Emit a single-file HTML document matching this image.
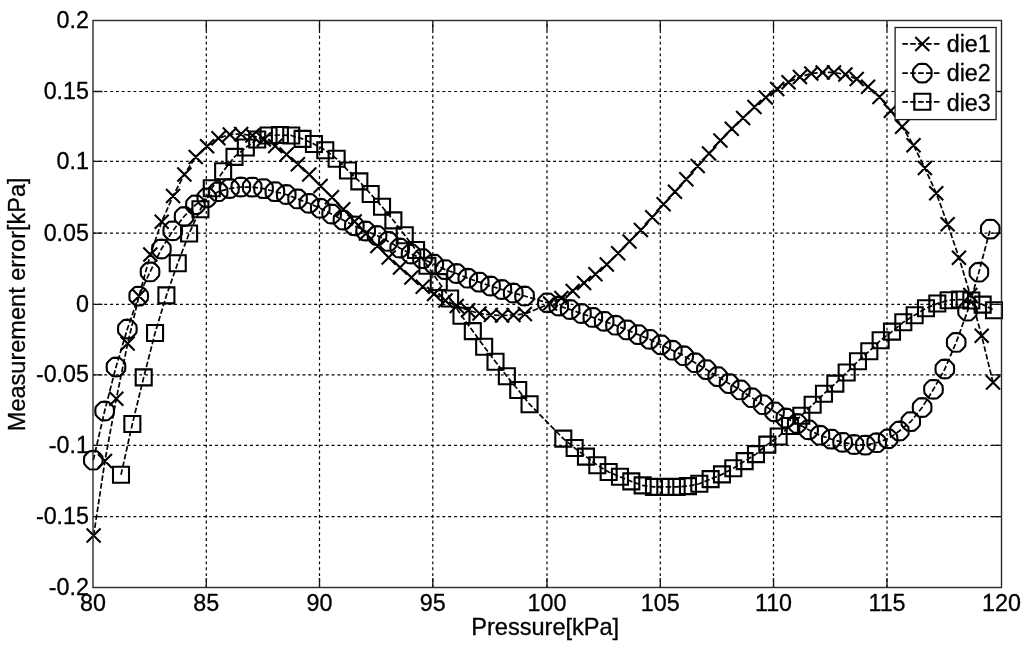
<!DOCTYPE html>
<html><head><meta charset="utf-8"><title>Measurement error plot</title>
<style>
html,body{margin:0;padding:0;background:#fff;}
body{width:1024px;height:652px;overflow:hidden;}
svg{display:block;}
text{font-family:"Liberation Sans",Arial,Helvetica,sans-serif;font-size:23.3px;fill:#000;stroke:#000;stroke-width:0.3px;}
</style></head><body>
<svg width="1024" height="652" viewBox="0 0 1024 652">
<rect x="0" y="0" width="1024" height="652" fill="#fff"/>
<path d="M206.3 20.5V587.5M319.5 20.5V587.5M432.8 20.5V587.5M547 20.5V587.5M660.3 20.5V587.5M773.5 20.5V587.5M887 20.5V587.5" stroke="#000" stroke-width="1.2" stroke-dasharray="2.9 2.94" stroke-dashoffset="2.15" fill="none"/>
<path d="M93 91.5H1001.5M93 161.3H1001.5M93 233.1H1001.5M93 304.3H1001.5M93 374.9H1001.5M93 445.3H1001.5M93 516.7H1001.5" stroke="#000" stroke-width="1.2" stroke-dasharray="2.9 2.93" stroke-dashoffset="0.4" fill="none"/>
<path d="M206.3 587.5v-9.5M206.3 20.5v9.5M319.5 587.5v-9.5M319.5 20.5v9.5M432.8 587.5v-9.5M432.8 20.5v9.5M547 587.5v-9.5M547 20.5v9.5M660.3 587.5v-9.5M660.3 20.5v9.5M773.5 587.5v-9.5M773.5 20.5v9.5M887 587.5v-9.5M887 20.5v9.5M93 91.5h9.5M1001.5 91.5h-9.5M93 161.3h9.5M1001.5 161.3h-9.5M93 233.1h9.5M1001.5 233.1h-9.5M93 304.3h9.5M1001.5 304.3h-9.5M93 374.9h9.5M1001.5 374.9h-9.5M93 445.3h9.5M1001.5 445.3h-9.5M93 516.7h9.5M1001.5 516.7h-9.5" stroke="#111" stroke-width="1.3" fill="none"/>
<path d="M93.6 535.6 104.95 461 116.3 398.8 127.65 343.5 139 296.1 150.34 254.6 161.69 221.8 173.04 196 184.39 174.4 195.74 157 207.09 146.3 218.44 138.3 229.79 134.4 241.14 134 252.49 135.5 263.84 139.5 275.18 146 286.53 154.5 297.88 164.2 309.23 174.5 320.58 186 331.93 197.3 343.28 209.2 354.63 221.5 365.98 233.5 377.33 246 388.67 257.5 400.02 267.5 411.37 277.4 422.72 286.8 434.07 294 445.42 300.5 456.77 306 468.12 310.2 479.47 313.5 490.82 315 502.16 315.5 513.51 315 524.86 314 550 303.6 561.36 298 572.72 290.9 584.08 282.9 595.44 274.2 606.8 264.4 618.16 253.2 629.52 241.4 640.88 230 652.24 217.2 663.6 204.3 674.96 191.7 686.32 179.2 697.68 166.1 709.04 153.4 720.4 140.5 731.76 128.8 743.12 117.9 754.48 106.9 765.84 97.5 777.2 88.9 788.56 82.2 799.92 77.1 811.28 73.4 822.64 72.4 834 72.4 845.36 74.5 856.72 79.1 868.08 86.8 879.44 96.9 890.8 110.8 902.16 126.8 913.52 145.2 924.88 168.1 936.24 193.2 947.6 224.2 958.96 257.7 970.32 295 981.68 335.8 993.04 382.6" stroke="#000" stroke-width="1.7" stroke-dasharray="5.6 2.3" fill="none"/>
<path d="M86.6 528.6L100.6 542.6M86.6 542.6L100.6 528.6M97.95 454L111.95 468M97.95 468L111.95 454M109.3 391.8L123.3 405.8M109.3 405.8L123.3 391.8M120.65 336.5L134.65 350.5M120.65 350.5L134.65 336.5M132 289.1L146 303.1M132 303.1L146 289.1M143.34 247.6L157.34 261.6M143.34 261.6L157.34 247.6M154.69 214.8L168.69 228.8M154.69 228.8L168.69 214.8M166.04 189L180.04 203M166.04 203L180.04 189M177.39 167.4L191.39 181.4M177.39 181.4L191.39 167.4M188.74 150L202.74 164M188.74 164L202.74 150M200.09 139.3L214.09 153.3M200.09 153.3L214.09 139.3M211.44 131.3L225.44 145.3M211.44 145.3L225.44 131.3M222.79 127.4L236.79 141.4M222.79 141.4L236.79 127.4M234.14 127L248.14 141M234.14 141L248.14 127M245.49 128.5L259.49 142.5M245.49 142.5L259.49 128.5M256.84 132.5L270.84 146.5M256.84 146.5L270.84 132.5M268.18 139L282.18 153M268.18 153L282.18 139M279.53 147.5L293.53 161.5M279.53 161.5L293.53 147.5M290.88 157.2L304.88 171.2M290.88 171.2L304.88 157.2M302.23 167.5L316.23 181.5M302.23 181.5L316.23 167.5M313.58 179L327.58 193M313.58 193L327.58 179M324.93 190.3L338.93 204.3M324.93 204.3L338.93 190.3M336.28 202.2L350.28 216.2M336.28 216.2L350.28 202.2M347.63 214.5L361.63 228.5M347.63 228.5L361.63 214.5M358.98 226.5L372.98 240.5M358.98 240.5L372.98 226.5M370.33 239L384.33 253M370.33 253L384.33 239M381.67 250.5L395.67 264.5M381.67 264.5L395.67 250.5M393.02 260.5L407.02 274.5M393.02 274.5L407.02 260.5M404.37 270.4L418.37 284.4M404.37 284.4L418.37 270.4M415.72 279.8L429.72 293.8M415.72 293.8L429.72 279.8M427.07 287L441.07 301M427.07 301L441.07 287M438.42 293.5L452.42 307.5M438.42 307.5L452.42 293.5M449.77 299L463.77 313M449.77 313L463.77 299M461.12 303.2L475.12 317.2M461.12 317.2L475.12 303.2M472.47 306.5L486.47 320.5M472.47 320.5L486.47 306.5M483.82 308L497.82 322M483.82 322L497.82 308M495.16 308.5L509.16 322.5M495.16 322.5L509.16 308.5M506.51 308L520.51 322M506.51 322L520.51 308M517.86 307L531.86 321M517.86 321L531.86 307M543 296.6L557 310.6M543 310.6L557 296.6M554.36 291L568.36 305M554.36 305L568.36 291M565.72 283.9L579.72 297.9M565.72 297.9L579.72 283.9M577.08 275.9L591.08 289.9M577.08 289.9L591.08 275.9M588.44 267.2L602.44 281.2M588.44 281.2L602.44 267.2M599.8 257.4L613.8 271.4M599.8 271.4L613.8 257.4M611.16 246.2L625.16 260.2M611.16 260.2L625.16 246.2M622.52 234.4L636.52 248.4M622.52 248.4L636.52 234.4M633.88 223L647.88 237M633.88 237L647.88 223M645.24 210.2L659.24 224.2M645.24 224.2L659.24 210.2M656.6 197.3L670.6 211.3M656.6 211.3L670.6 197.3M667.96 184.7L681.96 198.7M667.96 198.7L681.96 184.7M679.32 172.2L693.32 186.2M679.32 186.2L693.32 172.2M690.68 159.1L704.68 173.1M690.68 173.1L704.68 159.1M702.04 146.4L716.04 160.4M702.04 160.4L716.04 146.4M713.4 133.5L727.4 147.5M713.4 147.5L727.4 133.5M724.76 121.8L738.76 135.8M724.76 135.8L738.76 121.8M736.12 110.9L750.12 124.9M736.12 124.9L750.12 110.9M747.48 99.9L761.48 113.9M747.48 113.9L761.48 99.9M758.84 90.5L772.84 104.5M758.84 104.5L772.84 90.5M770.2 81.9L784.2 95.9M770.2 95.9L784.2 81.9M781.56 75.2L795.56 89.2M781.56 89.2L795.56 75.2M792.92 70.1L806.92 84.1M792.92 84.1L806.92 70.1M804.28 66.4L818.28 80.4M804.28 80.4L818.28 66.4M815.64 65.4L829.64 79.4M815.64 79.4L829.64 65.4M827 65.4L841 79.4M827 79.4L841 65.4M838.36 67.5L852.36 81.5M838.36 81.5L852.36 67.5M849.72 72.1L863.72 86.1M849.72 86.1L863.72 72.1M861.08 79.8L875.08 93.8M861.08 93.8L875.08 79.8M872.44 89.9L886.44 103.9M872.44 103.9L886.44 89.9M883.8 103.8L897.8 117.8M883.8 117.8L897.8 103.8M895.16 119.8L909.16 133.8M895.16 133.8L909.16 119.8M906.52 138.2L920.52 152.2M906.52 152.2L920.52 138.2M917.88 161.1L931.88 175.1M917.88 175.1L931.88 161.1M929.24 186.2L943.24 200.2M929.24 200.2L943.24 186.2M940.6 217.2L954.6 231.2M940.6 231.2L954.6 217.2M951.96 250.7L965.96 264.7M951.96 264.7L965.96 250.7M963.32 288L977.32 302M963.32 302L977.32 288M974.68 328.8L988.68 342.8M974.68 342.8L988.68 328.8M986.04 375.6L1000.04 389.6M986.04 389.6L1000.04 375.6" stroke="#000" stroke-width="2.1" fill="none" stroke-linecap="butt" stroke-linejoin="miter"/>
<path d="M93.3 460.2 104.65 411 116 367 127.35 329 138.7 296.1 150.05 271.9 161.39 249 172.74 230.8 184.09 216.5 195.44 204.8 206.79 197.8 218.14 191.7 229.49 188.5 240.84 187 252.19 187.1 263.54 188.6 274.88 191.6 286.23 194.5 297.58 198.9 308.93 203.3 320.28 208.2 331.63 214 342.98 220 354.33 225.8 365.68 231 377.03 235.5 388.37 241.4 399.72 248 411.07 254 422.42 258.6 433.77 264.1 445.12 269.6 456.47 273.5 467.82 278.2 479.17 282.1 490.52 286 501.86 289.5 513.21 293 524.56 296 547.4 302.8 558.75 306 570.11 309.5 581.46 313.5 592.82 317.4 604.17 321.3 615.53 325.2 626.88 329.9 638.24 334.6 649.6 339.3 660.95 344.8 672.3 350.2 683.66 355.7 695.01 362.7 706.37 369.6 717.73 376.6 729.08 383.6 740.43 389.9 751.79 397.7 763.14 404.7 774.5 411.8 785.86 418 797.21 423.5 808.57 429.8 819.92 435.2 831.27 439.1 842.63 442.3 853.99 444.5 865.34 445.1 876.69 442.7 888.05 438.8 899.4 431 910.76 421.6 922.12 407.5 933.47 389.3 944.83 369 956.18 342.4 967.53 311.2 978.89 272.2 990.25 229.1" stroke="#000" stroke-width="1.7" stroke-dasharray="5.6 2.3" fill="none"/>
<path d="M102.65 460.2L102.33 463.94L99.91 466.81L97.04 469.23L93.3 469.55L89.56 469.23L86.69 466.81L84.27 463.94L83.95 460.2L84.27 456.46L86.69 453.59L89.56 451.17L93.3 450.85L97.04 451.17L99.91 453.59L102.33 456.46ZM114 411L113.68 414.74L111.26 417.61L108.39 420.03L104.65 420.35L100.91 420.03L98.04 417.61L95.62 414.74L95.3 411L95.62 407.26L98.04 404.39L100.91 401.97L104.65 401.65L108.39 401.97L111.26 404.39L113.68 407.26ZM125.35 367L125.02 370.74L122.61 373.61L119.74 376.03L116 376.35L112.26 376.03L109.39 373.61L106.97 370.74L106.65 367L106.97 363.26L109.39 360.39L112.26 357.97L116 357.65L119.74 357.97L122.61 360.39L125.02 363.26ZM136.7 329L136.37 332.74L133.96 335.61L131.09 338.03L127.35 338.35L123.61 338.03L120.74 335.61L118.32 332.74L118 329L118.32 325.26L120.74 322.39L123.61 319.97L127.35 319.65L131.09 319.97L133.96 322.39L136.37 325.26ZM148.05 296.1L147.72 299.84L145.31 302.71L142.44 305.13L138.7 305.45L134.96 305.13L132.08 302.71L129.67 299.84L129.35 296.1L129.67 292.36L132.08 289.49L134.96 287.07L138.7 286.75L142.44 287.07L145.31 289.49L147.72 292.36ZM159.4 271.9L159.07 275.64L156.66 278.51L153.78 280.93L150.05 281.25L146.31 280.93L143.43 278.51L141.02 275.64L140.7 271.9L141.02 268.16L143.43 265.29L146.31 262.87L150.05 262.55L153.78 262.87L156.66 265.29L159.07 268.16ZM170.74 249L170.42 252.74L168.01 255.61L165.13 258.03L161.39 258.35L157.65 258.03L154.78 255.61L152.37 252.74L152.04 249L152.37 245.26L154.78 242.39L157.65 239.97L161.39 239.65L165.13 239.97L168.01 242.39L170.42 245.26ZM182.09 230.8L181.77 234.54L179.35 237.41L176.48 239.83L172.74 240.15L169 239.83L166.13 237.41L163.72 234.54L163.39 230.8L163.72 227.06L166.13 224.19L169 221.77L172.74 221.45L176.48 221.77L179.35 224.19L181.77 227.06ZM193.44 216.5L193.12 220.24L190.7 223.11L187.83 225.53L184.09 225.85L180.35 225.53L177.48 223.11L175.07 220.24L174.74 216.5L175.07 212.76L177.48 209.89L180.35 207.47L184.09 207.15L187.83 207.47L190.7 209.89L193.12 212.76ZM204.79 204.8L204.47 208.54L202.05 211.41L199.18 213.83L195.44 214.15L191.7 213.83L188.83 211.41L186.41 208.54L186.09 204.8L186.41 201.06L188.83 198.19L191.7 195.77L195.44 195.45L199.18 195.77L202.05 198.19L204.47 201.06ZM216.14 197.8L215.82 201.54L213.4 204.41L210.53 206.83L206.79 207.15L203.05 206.83L200.18 204.41L197.76 201.54L197.44 197.8L197.76 194.06L200.18 191.19L203.05 188.77L206.79 188.45L210.53 188.77L213.4 191.19L215.82 194.06ZM227.49 191.7L227.17 195.44L224.75 198.31L221.88 200.73L218.14 201.05L214.4 200.73L211.53 198.31L209.11 195.44L208.79 191.7L209.11 187.96L211.53 185.09L214.4 182.67L218.14 182.35L221.88 182.67L224.75 185.09L227.17 187.96ZM238.84 188.5L238.51 192.24L236.1 195.11L233.23 197.53L229.49 197.85L225.75 197.53L222.88 195.11L220.46 192.24L220.14 188.5L220.46 184.76L222.88 181.89L225.75 179.47L229.49 179.15L233.23 179.47L236.1 181.89L238.51 184.76ZM250.19 187L249.86 190.74L247.45 193.61L244.58 196.03L240.84 196.35L237.1 196.03L234.23 193.61L231.81 190.74L231.49 187L231.81 183.26L234.23 180.39L237.1 177.97L240.84 177.65L244.58 177.97L247.45 180.39L249.86 183.26ZM261.54 187.1L261.21 190.84L258.8 193.71L255.93 196.13L252.19 196.45L248.45 196.13L245.57 193.71L243.16 190.84L242.84 187.1L243.16 183.36L245.57 180.49L248.45 178.07L252.19 177.75L255.93 178.07L258.8 180.49L261.21 183.36ZM272.89 188.6L272.56 192.34L270.15 195.21L267.27 197.63L263.54 197.95L259.8 197.63L256.92 195.21L254.51 192.34L254.19 188.6L254.51 184.86L256.92 181.99L259.8 179.57L263.54 179.25L267.27 179.57L270.15 181.99L272.56 184.86ZM284.23 191.6L283.91 195.34L281.5 198.21L278.62 200.63L274.88 200.95L271.14 200.63L268.27 198.21L265.86 195.34L265.53 191.6L265.86 187.86L268.27 184.99L271.14 182.57L274.88 182.25L278.62 182.57L281.5 184.99L283.91 187.86ZM295.58 194.5L295.26 198.24L292.84 201.11L289.97 203.53L286.23 203.85L282.49 203.53L279.62 201.11L277.21 198.24L276.88 194.5L277.21 190.76L279.62 187.89L282.49 185.47L286.23 185.15L289.97 185.47L292.84 187.89L295.26 190.76ZM306.93 198.9L306.61 202.64L304.19 205.51L301.32 207.93L297.58 208.25L293.84 207.93L290.97 205.51L288.56 202.64L288.23 198.9L288.56 195.16L290.97 192.29L293.84 189.87L297.58 189.55L301.32 189.87L304.19 192.29L306.61 195.16ZM318.28 203.3L317.96 207.04L315.54 209.91L312.67 212.33L308.93 212.65L305.19 212.33L302.32 209.91L299.9 207.04L299.58 203.3L299.9 199.56L302.32 196.69L305.19 194.27L308.93 193.95L312.67 194.27L315.54 196.69L317.96 199.56ZM329.63 208.2L329.31 211.94L326.89 214.81L324.02 217.23L320.28 217.55L316.54 217.23L313.67 214.81L311.25 211.94L310.93 208.2L311.25 204.46L313.67 201.59L316.54 199.17L320.28 198.85L324.02 199.17L326.89 201.59L329.31 204.46ZM340.98 214L340.66 217.74L338.24 220.61L335.37 223.03L331.63 223.35L327.89 223.03L325.02 220.61L322.6 217.74L322.28 214L322.6 210.26L325.02 207.39L327.89 204.97L331.63 204.65L335.37 204.97L338.24 207.39L340.66 210.26ZM352.33 220L352 223.74L349.59 226.61L346.72 229.03L342.98 229.35L339.24 229.03L336.37 226.61L333.95 223.74L333.63 220L333.95 216.26L336.37 213.39L339.24 210.97L342.98 210.65L346.72 210.97L349.59 213.39L352 216.26ZM363.68 225.8L363.35 229.54L360.94 232.41L358.07 234.83L354.33 235.15L350.59 234.83L347.72 232.41L345.3 229.54L344.98 225.8L345.3 222.06L347.72 219.19L350.59 216.77L354.33 216.45L358.07 216.77L360.94 219.19L363.35 222.06ZM375.03 231L374.7 234.74L372.29 237.61L369.42 240.03L365.68 240.35L361.94 240.03L359.06 237.61L356.65 234.74L356.33 231L356.65 227.26L359.06 224.39L361.94 221.97L365.68 221.65L369.42 221.97L372.29 224.39L374.7 227.26ZM386.38 235.5L386.05 239.24L383.64 242.11L380.76 244.53L377.03 244.85L373.29 244.53L370.41 242.11L368 239.24L367.68 235.5L368 231.76L370.41 228.89L373.29 226.47L377.03 226.15L380.76 226.47L383.64 228.89L386.05 231.76ZM397.72 241.4L397.4 245.14L394.99 248.01L392.11 250.43L388.37 250.75L384.63 250.43L381.76 248.01L379.35 245.14L379.02 241.4L379.35 237.66L381.76 234.79L384.63 232.37L388.37 232.05L392.11 232.37L394.99 234.79L397.4 237.66ZM409.07 248L408.75 251.74L406.33 254.61L403.46 257.03L399.72 257.35L395.98 257.03L393.11 254.61L390.7 251.74L390.37 248L390.7 244.26L393.11 241.39L395.98 238.97L399.72 238.65L403.46 238.97L406.33 241.39L408.75 244.26ZM420.42 254L420.1 257.74L417.68 260.61L414.81 263.03L411.07 263.35L407.33 263.03L404.46 260.61L402.05 257.74L401.72 254L402.05 250.26L404.46 247.39L407.33 244.97L411.07 244.65L414.81 244.97L417.68 247.39L420.1 250.26ZM431.77 258.6L431.45 262.34L429.03 265.21L426.16 267.63L422.42 267.95L418.68 267.63L415.81 265.21L413.39 262.34L413.07 258.6L413.39 254.86L415.81 251.99L418.68 249.57L422.42 249.25L426.16 249.57L429.03 251.99L431.45 254.86ZM443.12 264.1L442.8 267.84L440.38 270.71L437.51 273.13L433.77 273.45L430.03 273.13L427.16 270.71L424.74 267.84L424.42 264.1L424.74 260.36L427.16 257.49L430.03 255.07L433.77 254.75L437.51 255.07L440.38 257.49L442.8 260.36ZM454.47 269.6L454.15 273.34L451.73 276.21L448.86 278.63L445.12 278.95L441.38 278.63L438.51 276.21L436.09 273.34L435.77 269.6L436.09 265.86L438.51 262.99L441.38 260.57L445.12 260.25L448.86 260.57L451.73 262.99L454.15 265.86ZM465.82 273.5L465.49 277.24L463.08 280.11L460.21 282.53L456.47 282.85L452.73 282.53L449.86 280.11L447.44 277.24L447.12 273.5L447.44 269.76L449.86 266.89L452.73 264.47L456.47 264.15L460.21 264.47L463.08 266.89L465.49 269.76ZM477.17 278.2L476.84 281.94L474.43 284.81L471.56 287.23L467.82 287.55L464.08 287.23L461.21 284.81L458.79 281.94L458.47 278.2L458.79 274.46L461.21 271.59L464.08 269.17L467.82 268.85L471.56 269.17L474.43 271.59L476.84 274.46ZM488.52 282.1L488.19 285.84L485.78 288.71L482.91 291.13L479.17 291.45L475.43 291.13L472.55 288.71L470.14 285.84L469.82 282.1L470.14 278.36L472.55 275.49L475.43 273.07L479.17 272.75L482.91 273.07L485.78 275.49L488.19 278.36ZM499.87 286L499.54 289.74L497.13 292.61L494.25 295.03L490.52 295.35L486.78 295.03L483.9 292.61L481.49 289.74L481.17 286L481.49 282.26L483.9 279.39L486.78 276.97L490.52 276.65L494.25 276.97L497.13 279.39L499.54 282.26ZM511.21 289.5L510.89 293.24L508.48 296.11L505.6 298.53L501.86 298.85L498.12 298.53L495.25 296.11L492.84 293.24L492.51 289.5L492.84 285.76L495.25 282.89L498.12 280.47L501.86 280.15L505.6 280.47L508.48 282.89L510.89 285.76ZM522.56 293L522.24 296.74L519.82 299.61L516.95 302.03L513.21 302.35L509.47 302.03L506.6 299.61L504.19 296.74L503.86 293L504.19 289.26L506.6 286.39L509.47 283.97L513.21 283.65L516.95 283.97L519.82 286.39L522.24 289.26ZM533.91 296L533.59 299.74L531.17 302.61L528.3 305.03L524.56 305.35L520.82 305.03L517.95 302.61L515.54 299.74L515.21 296L515.54 292.26L517.95 289.39L520.82 286.97L524.56 286.65L528.3 286.97L531.17 289.39L533.59 292.26ZM556.75 302.8L556.43 306.54L554.01 309.41L551.14 311.83L547.4 312.15L543.66 311.83L540.79 309.41L538.37 306.54L538.05 302.8L538.37 299.06L540.79 296.19L543.66 293.77L547.4 293.45L551.14 293.77L554.01 296.19L556.43 299.06ZM568.11 306L567.78 309.74L565.37 312.61L562.49 315.03L558.75 315.35L555.02 315.03L552.14 312.61L549.73 309.74L549.4 306L549.73 302.26L552.14 299.39L555.02 296.97L558.75 296.65L562.49 296.97L565.37 299.39L567.78 302.26ZM579.46 309.5L579.14 313.24L576.72 316.11L573.85 318.53L570.11 318.85L566.37 318.53L563.5 316.11L561.08 313.24L560.76 309.5L561.08 305.76L563.5 302.89L566.37 300.47L570.11 300.15L573.85 300.47L576.72 302.89L579.14 305.76ZM590.81 313.5L590.49 317.24L588.08 320.11L585.2 322.53L581.46 322.85L577.73 322.53L574.85 320.11L572.44 317.24L572.11 313.5L572.44 309.76L574.85 306.89L577.73 304.47L581.46 304.15L585.2 304.47L588.08 306.89L590.49 309.76ZM602.17 317.4L601.85 321.14L599.43 324.01L596.56 326.43L592.82 326.75L589.08 326.43L586.21 324.01L583.79 321.14L583.47 317.4L583.79 313.66L586.21 310.79L589.08 308.37L592.82 308.05L596.56 308.37L599.43 310.79L601.85 313.66ZM613.52 321.3L613.2 325.04L610.79 327.91L607.91 330.33L604.17 330.65L600.44 330.33L597.56 327.91L595.15 325.04L594.82 321.3L595.15 317.56L597.56 314.69L600.44 312.27L604.17 311.95L607.91 312.27L610.79 314.69L613.2 317.56ZM624.88 325.2L624.56 328.94L622.14 331.81L619.27 334.23L615.53 334.55L611.79 334.23L608.92 331.81L606.5 328.94L606.18 325.2L606.5 321.46L608.92 318.59L611.79 316.17L615.53 315.85L619.27 316.17L622.14 318.59L624.56 321.46ZM636.24 329.9L635.91 333.64L633.5 336.51L630.62 338.93L626.88 339.25L623.15 338.93L620.27 336.51L617.86 333.64L617.53 329.9L617.86 326.16L620.27 323.29L623.15 320.87L626.88 320.55L630.62 320.87L633.5 323.29L635.91 326.16ZM647.59 334.6L647.27 338.34L644.85 341.21L641.98 343.63L638.24 343.95L634.5 343.63L631.63 341.21L629.21 338.34L628.89 334.6L629.21 330.86L631.63 327.99L634.5 325.57L638.24 325.25L641.98 325.57L644.85 327.99L647.27 330.86ZM658.95 339.3L658.62 343.04L656.21 345.91L653.33 348.33L649.6 348.65L645.86 348.33L642.98 345.91L640.57 343.04L640.25 339.3L640.57 335.56L642.98 332.69L645.86 330.27L649.6 329.95L653.33 330.27L656.21 332.69L658.62 335.56ZM670.3 344.8L669.98 348.54L667.56 351.41L664.69 353.83L660.95 354.15L657.21 353.83L654.34 351.41L651.92 348.54L651.6 344.8L651.92 341.06L654.34 338.19L657.21 335.77L660.95 335.45L664.69 335.77L667.56 338.19L669.98 341.06ZM681.65 350.2L681.33 353.94L678.92 356.81L676.04 359.23L672.3 359.55L668.57 359.23L665.69 356.81L663.28 353.94L662.95 350.2L663.28 346.46L665.69 343.59L668.57 341.17L672.3 340.85L676.04 341.17L678.92 343.59L681.33 346.46ZM693.01 355.7L692.69 359.44L690.27 362.31L687.4 364.73L683.66 365.05L679.92 364.73L677.05 362.31L674.63 359.44L674.31 355.7L674.63 351.96L677.05 349.09L679.92 346.67L683.66 346.35L687.4 346.67L690.27 349.09L692.69 351.96ZM704.37 362.7L704.04 366.44L701.63 369.31L698.75 371.73L695.01 372.05L691.28 371.73L688.4 369.31L685.99 366.44L685.66 362.7L685.99 358.96L688.4 356.09L691.28 353.67L695.01 353.35L698.75 353.67L701.63 356.09L704.04 358.96ZM715.72 369.6L715.4 373.34L712.98 376.21L710.11 378.63L706.37 378.95L702.63 378.63L699.76 376.21L697.34 373.34L697.02 369.6L697.34 365.86L699.76 362.99L702.63 360.57L706.37 360.25L710.11 360.57L712.98 362.99L715.4 365.86ZM727.08 376.6L726.75 380.34L724.34 383.21L721.46 385.63L717.73 385.95L713.99 385.63L711.11 383.21L708.7 380.34L708.38 376.6L708.7 372.86L711.11 369.99L713.99 367.57L717.73 367.25L721.46 367.57L724.34 369.99L726.75 372.86ZM738.43 383.6L738.11 387.34L735.69 390.21L732.82 392.63L729.08 392.95L725.34 392.63L722.47 390.21L720.05 387.34L719.73 383.6L720.05 379.86L722.47 376.99L725.34 374.57L729.08 374.25L732.82 374.57L735.69 376.99L738.11 379.86ZM749.78 389.9L749.46 393.64L747.05 396.51L744.17 398.93L740.43 399.25L736.7 398.93L733.82 396.51L731.41 393.64L731.08 389.9L731.41 386.16L733.82 383.29L736.7 380.87L740.43 380.55L744.17 380.87L747.05 383.29L749.46 386.16ZM761.14 397.7L760.82 401.44L758.4 404.31L755.53 406.73L751.79 407.05L748.05 406.73L745.18 404.31L742.76 401.44L742.44 397.7L742.76 393.96L745.18 391.09L748.05 388.67L751.79 388.35L755.53 388.67L758.4 391.09L760.82 393.96ZM772.5 404.7L772.17 408.44L769.76 411.31L766.88 413.73L763.14 414.05L759.41 413.73L756.53 411.31L754.12 408.44L753.79 404.7L754.12 400.96L756.53 398.09L759.41 395.67L763.14 395.35L766.88 395.67L769.76 398.09L772.17 400.96ZM783.85 411.8L783.53 415.54L781.11 418.41L778.24 420.83L774.5 421.15L770.76 420.83L767.89 418.41L765.47 415.54L765.15 411.8L765.47 408.06L767.89 405.19L770.76 402.77L774.5 402.45L778.24 402.77L781.11 405.19L783.53 408.06ZM795.21 418L794.88 421.74L792.47 424.61L789.59 427.03L785.86 427.35L782.12 427.03L779.24 424.61L776.83 421.74L776.5 418L776.83 414.26L779.24 411.39L782.12 408.97L785.86 408.65L789.59 408.97L792.47 411.39L794.88 414.26ZM806.56 423.5L806.24 427.24L803.82 430.11L800.95 432.53L797.21 432.85L793.47 432.53L790.6 430.11L788.18 427.24L787.86 423.5L788.18 419.76L790.6 416.89L793.47 414.47L797.21 414.15L800.95 414.47L803.82 416.89L806.24 419.76ZM817.92 429.8L817.59 433.54L815.18 436.41L812.3 438.83L808.57 439.15L804.83 438.83L801.95 436.41L799.54 433.54L799.22 429.8L799.54 426.06L801.95 423.19L804.83 420.77L808.57 420.45L812.3 420.77L815.18 423.19L817.59 426.06ZM829.27 435.2L828.95 438.94L826.53 441.81L823.66 444.23L819.92 444.55L816.18 444.23L813.31 441.81L810.89 438.94L810.57 435.2L810.89 431.46L813.31 428.59L816.18 426.17L819.92 425.85L823.66 426.17L826.53 428.59L828.95 431.46ZM840.62 439.1L840.3 442.84L837.89 445.71L835.01 448.13L831.27 448.45L827.54 448.13L824.66 445.71L822.25 442.84L821.92 439.1L822.25 435.36L824.66 432.49L827.54 430.07L831.27 429.75L835.01 430.07L837.89 432.49L840.3 435.36ZM851.98 442.3L851.66 446.04L849.24 448.91L846.37 451.33L842.63 451.65L838.89 451.33L836.02 448.91L833.6 446.04L833.28 442.3L833.6 438.56L836.02 435.69L838.89 433.27L842.63 432.95L846.37 433.27L849.24 435.69L851.66 438.56ZM863.34 444.5L863.01 448.24L860.6 451.11L857.72 453.53L853.99 453.85L850.25 453.53L847.37 451.11L844.96 448.24L844.63 444.5L844.96 440.76L847.37 437.89L850.25 435.47L853.99 435.15L857.72 435.47L860.6 437.89L863.01 440.76ZM874.69 445.1L874.37 448.84L871.95 451.71L869.08 454.13L865.34 454.45L861.6 454.13L858.73 451.71L856.31 448.84L855.99 445.1L856.31 441.36L858.73 438.49L861.6 436.07L865.34 435.75L869.08 436.07L871.95 438.49L874.37 441.36ZM886.04 442.7L885.72 446.44L883.31 449.31L880.43 451.73L876.69 452.05L872.96 451.73L870.08 449.31L867.67 446.44L867.34 442.7L867.67 438.96L870.08 436.09L872.96 433.67L876.69 433.35L880.43 433.67L883.31 436.09L885.72 438.96ZM897.4 438.8L897.08 442.54L894.66 445.41L891.79 447.83L888.05 448.15L884.31 447.83L881.44 445.41L879.02 442.54L878.7 438.8L879.02 435.06L881.44 432.19L884.31 429.77L888.05 429.45L891.79 429.77L894.66 432.19L897.08 435.06ZM908.75 431L908.43 434.74L906.02 437.61L903.14 440.03L899.4 440.35L895.67 440.03L892.79 437.61L890.38 434.74L890.05 431L890.38 427.26L892.79 424.39L895.67 421.97L899.4 421.65L903.14 421.97L906.02 424.39L908.43 427.26ZM920.11 421.6L919.79 425.34L917.37 428.21L914.5 430.63L910.76 430.95L907.02 430.63L904.15 428.21L901.73 425.34L901.41 421.6L901.73 417.86L904.15 414.99L907.02 412.57L910.76 412.25L914.5 412.57L917.37 414.99L919.79 417.86ZM931.47 407.5L931.14 411.24L928.73 414.11L925.85 416.53L922.12 416.85L918.38 416.53L915.5 414.11L913.09 411.24L912.76 407.5L913.09 403.76L915.5 400.89L918.38 398.47L922.12 398.15L925.85 398.47L928.73 400.89L931.14 403.76ZM942.82 389.3L942.5 393.04L940.08 395.91L937.21 398.33L933.47 398.65L929.73 398.33L926.86 395.91L924.44 393.04L924.12 389.3L924.44 385.56L926.86 382.69L929.73 380.27L933.47 379.95L937.21 380.27L940.08 382.69L942.5 385.56ZM954.18 369L953.85 372.74L951.44 375.61L948.56 378.03L944.83 378.35L941.09 378.03L938.21 375.61L935.8 372.74L935.48 369L935.8 365.26L938.21 362.39L941.09 359.97L944.83 359.65L948.56 359.97L951.44 362.39L953.85 365.26ZM965.53 342.4L965.21 346.14L962.79 349.01L959.92 351.43L956.18 351.75L952.44 351.43L949.57 349.01L947.15 346.14L946.83 342.4L947.15 338.66L949.57 335.79L952.44 333.37L956.18 333.05L959.92 333.37L962.79 335.79L965.21 338.66ZM976.88 311.2L976.56 314.94L974.15 317.81L971.27 320.23L967.53 320.55L963.8 320.23L960.92 317.81L958.51 314.94L958.18 311.2L958.51 307.46L960.92 304.59L963.8 302.17L967.53 301.85L971.27 302.17L974.15 304.59L976.56 307.46ZM988.24 272.2L987.92 275.94L985.5 278.81L982.63 281.23L978.89 281.55L975.15 281.23L972.28 278.81L969.86 275.94L969.54 272.2L969.86 268.46L972.28 265.59L975.15 263.17L978.89 262.85L982.63 263.17L985.5 265.59L987.92 268.46ZM999.6 229.1L999.27 232.84L996.86 235.71L993.98 238.13L990.25 238.45L986.51 238.13L983.63 235.71L981.22 232.84L980.89 229.1L981.22 225.36L983.63 222.49L986.51 220.07L990.25 219.75L993.98 220.07L996.86 222.49L999.27 225.36Z" stroke="#000" stroke-width="2.1" fill="none" stroke-linecap="butt" stroke-linejoin="miter"/>
<path d="M121 474.8 132.35 424 143.7 377.4 155.05 333 166.4 295.4 177.75 263.3 189.09 233.5 200.44 209.3 211.79 188.2 223.14 171.3 234.49 156.9 245.84 147.5 257.19 139.5 268.54 135.5 279.89 135 291.24 135.5 302.58 138.9 313.93 144 325.28 150.2 336.63 158.8 347.98 170.5 359.33 181.4 370.68 194 382.03 206.7 393.38 220.4 404.73 235.3 416.07 250 427.42 265.7 438.77 282.1 450.12 298.5 461.47 315.7 472.82 331.1 484.17 346.8 495.52 361.7 506.87 376.2 518.22 390 529.56 404.2 563.3 438.6 574.63 448 585.97 456.6 597.3 465.2 608.64 472 619.97 476.8 631.3 481.4 642.64 485.4 653.97 486.9 665.31 486.9 676.64 486.9 687.97 486.1 699.31 483.8 710.64 479.1 721.98 474.4 733.31 468.2 744.64 461.1 755.98 454.1 767.31 444.6 778.65 436.5 789.98 426 801.31 415.7 812.65 404.7 823.98 393.8 835.32 383.6 846.65 372.5 857.98 361.2 869.32 351.2 880.65 340.2 891.99 331.6 903.32 322.2 914.65 315.2 925.99 308.3 937.32 303.5 948.66 300.3 959.99 299.5 971.32 300.5 982.66 304.6 993.99 310.2" stroke="#000" stroke-width="1.7" stroke-dasharray="5.6 2.3" fill="none"/>
<path d="M113 466.8h16v16h-16ZM124.35 416h16v16h-16ZM135.7 369.4h16v16h-16ZM147.05 325h16v16h-16ZM158.4 287.4h16v16h-16ZM169.75 255.3h16v16h-16ZM181.09 225.5h16v16h-16ZM192.44 201.3h16v16h-16ZM203.79 180.2h16v16h-16ZM215.14 163.3h16v16h-16ZM226.49 148.9h16v16h-16ZM237.84 139.5h16v16h-16ZM249.19 131.5h16v16h-16ZM260.54 127.5h16v16h-16ZM271.89 127h16v16h-16ZM283.24 127.5h16v16h-16ZM294.58 130.9h16v16h-16ZM305.93 136h16v16h-16ZM317.28 142.2h16v16h-16ZM328.63 150.8h16v16h-16ZM339.98 162.5h16v16h-16ZM351.33 173.4h16v16h-16ZM362.68 186h16v16h-16ZM374.03 198.7h16v16h-16ZM385.38 212.4h16v16h-16ZM396.73 227.3h16v16h-16ZM408.07 242h16v16h-16ZM419.42 257.7h16v16h-16ZM430.77 274.1h16v16h-16ZM442.12 290.5h16v16h-16ZM453.47 307.7h16v16h-16ZM464.82 323.1h16v16h-16ZM476.17 338.8h16v16h-16ZM487.52 353.7h16v16h-16ZM498.87 368.2h16v16h-16ZM510.22 382h16v16h-16ZM521.56 396.2h16v16h-16ZM555.3 430.6h16v16h-16ZM566.63 440h16v16h-16ZM577.97 448.6h16v16h-16ZM589.3 457.2h16v16h-16ZM600.64 464h16v16h-16ZM611.97 468.8h16v16h-16ZM623.3 473.4h16v16h-16ZM634.64 477.4h16v16h-16ZM645.97 478.9h16v16h-16ZM657.31 478.9h16v16h-16ZM668.64 478.9h16v16h-16ZM679.97 478.1h16v16h-16ZM691.31 475.8h16v16h-16ZM702.64 471.1h16v16h-16ZM713.98 466.4h16v16h-16ZM725.31 460.2h16v16h-16ZM736.64 453.1h16v16h-16ZM747.98 446.1h16v16h-16ZM759.31 436.6h16v16h-16ZM770.65 428.5h16v16h-16ZM781.98 418h16v16h-16ZM793.31 407.7h16v16h-16ZM804.65 396.7h16v16h-16ZM815.98 385.8h16v16h-16ZM827.32 375.6h16v16h-16ZM838.65 364.5h16v16h-16ZM849.98 353.2h16v16h-16ZM861.32 343.2h16v16h-16ZM872.65 332.2h16v16h-16ZM883.99 323.6h16v16h-16ZM895.32 314.2h16v16h-16ZM906.65 307.2h16v16h-16ZM917.99 300.3h16v16h-16ZM929.32 295.5h16v16h-16ZM940.66 292.3h16v16h-16ZM951.99 291.5h16v16h-16ZM963.32 292.5h16v16h-16ZM974.66 296.6h16v16h-16ZM985.99 302.2h16v16h-16Z" stroke="#000" stroke-width="2.1" fill="none" stroke-linecap="butt" stroke-linejoin="miter"/>
<rect x="93" y="20.5" width="908.5" height="567" stroke="#2a2a2a" stroke-width="1.4" fill="none"/>
<text x="93" y="610.6" text-anchor="middle">80</text>
<text x="206.3" y="610.6" text-anchor="middle">85</text>
<text x="319.5" y="610.6" text-anchor="middle">90</text>
<text x="432.8" y="610.6" text-anchor="middle">95</text>
<text x="547" y="610.6" text-anchor="middle">100</text>
<text x="660.3" y="610.6" text-anchor="middle">105</text>
<text x="773.5" y="610.6" text-anchor="middle">110</text>
<text x="887" y="610.6" text-anchor="middle">115</text>
<text x="1001.5" y="610.6" text-anchor="middle">120</text>
<text x="89" y="28" text-anchor="end">0.2</text>
<text x="89" y="99" text-anchor="end">0.15</text>
<text x="89" y="168.8" text-anchor="end">0.1</text>
<text x="89" y="240.6" text-anchor="end">0.05</text>
<text x="89" y="311.8" text-anchor="end">0</text>
<text x="89" y="382.4" text-anchor="end">-0.05</text>
<text x="89" y="452.8" text-anchor="end">-0.1</text>
<text x="89" y="524.2" text-anchor="end">-0.15</text>
<text x="89" y="595" text-anchor="end">-0.2</text>
<text transform="translate(545.2 635.4) scale(1.025 1)" text-anchor="middle" style="font-size:23px">Pressure[kPa]</text>
<text transform="translate(24.9 304.3) rotate(-90)" text-anchor="middle" style="font-size:23.55px">Measurement error[kPa]</text>
<rect x="895.1" y="27.5" width="101" height="92.1" fill="#fff" stroke="#1a1a1a" stroke-width="1.3"/>
<path d="M902.3 43.9H939.8" stroke="#000" stroke-width="1.7" stroke-dasharray="5.6 2.3" fill="none"/>
<path d="M915.3 36.9L929.3 50.9M915.3 50.9L929.3 36.9" stroke="#000" stroke-width="2.1" fill="none" stroke-linejoin="miter"/>
<text x="946.7" y="51.7">die1</text>
<path d="M902.3 73.1H939.8" stroke="#000" stroke-width="1.7" stroke-dasharray="5.6 2.3" fill="none"/>
<path d="M931.65 73.1L931.33 76.84L928.91 79.71L926.04 82.13L922.3 82.45L918.56 82.13L915.69 79.71L913.27 76.84L912.95 73.1L913.27 69.36L915.69 66.49L918.56 64.07L922.3 63.75L926.04 64.07L928.91 66.49L931.33 69.36Z" stroke="#000" stroke-width="2.1" fill="none" stroke-linejoin="miter"/>
<text x="946.7" y="81.2">die2</text>
<path d="M902.3 101.8H939.8" stroke="#000" stroke-width="1.7" stroke-dasharray="5.6 2.3" fill="none"/>
<path d="M914.3 93.8h16v16h-16Z" stroke="#000" stroke-width="2.1" fill="none" stroke-linejoin="miter"/>
<text x="946.7" y="110.7">die3</text>
</svg>
</body></html>
